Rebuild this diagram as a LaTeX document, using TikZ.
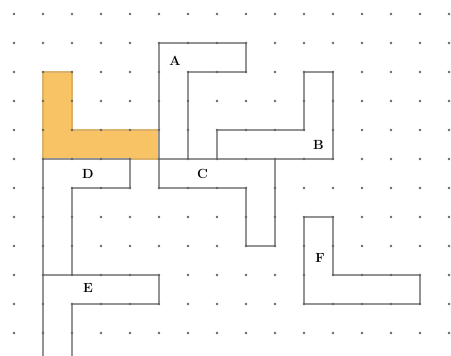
\documentclass[tikz,border=0pt]{standalone}
\definecolor{lshape}{HTML}{F8C364}
\tikzset{
  edge/.style={draw=gray!85, line width=1pt, line join=miter},
  griddot/.style={fill=black!60},
  lbl/.style={font=\fontsize{13}{15}\selectfont\bfseries, inner sep=0pt}
}
\begin{document}
\begin{tikzpicture}[x=1cm,y=-1cm]
\useasboundingbox (-0.4828,-0.4828) rectangle (15.069,11.793);
\clip (-0.4828,-0.4828) rectangle (15.069,11.793);
% shaded piece
\fill[lshape] (1,2) -- (2,2) -- (2,4) -- (5,4) -- (5,5) -- (1,5) -- cycle;
\draw[edge, draw=lshape!75!gray] (1,2) -- (2,2) -- (2,4) -- (5,4) -- (5,5) -- (1,5) -- cycle;
% pieces
\draw[edge] (5,1) -- (8,1) -- (8,2) -- (6,2) -- (6,5) -- (5,5) -- cycle;
\draw[edge] (7,4) -- (10,4) -- (10,2) -- (11,2) -- (11,5) -- (7,5) -- cycle;
\draw[edge] (5,5) -- (9,5) -- (9,8) -- (8,8) -- (8,6) -- (5,6) -- cycle;
\draw[edge] (1,5) -- (4,5) -- (4,6) -- (2,6) -- (2,9) -- (1,9) -- cycle;
\draw[edge] (1,12) -- (1,9) -- (5,9) -- (5,10) -- (2,10) -- (2,12);
\draw[edge] (10,7) -- (11,7) -- (11,9) -- (14,9) -- (14,10) -- (10,10) -- cycle;
% dots
\foreach \c in {0,...,15}
  \foreach \r in {0,...,11}
    \fill[griddot] (\c,\r) circle (1.3pt);
% labels
\node[lbl] (nA) at (5.55,1.6) {A};
\node[lbl] (nB) at (10.5,4.5) {B};
\node[lbl] (nC) at (6.5,5.5) {C};
\node[lbl] (nD) at (2.55,5.5) {D};
\node[lbl] (nE) at (2.55,9.45) {E};
\node[lbl] (nF) at (10.55,8.4) {F};
\end{tikzpicture}
\end{document}
